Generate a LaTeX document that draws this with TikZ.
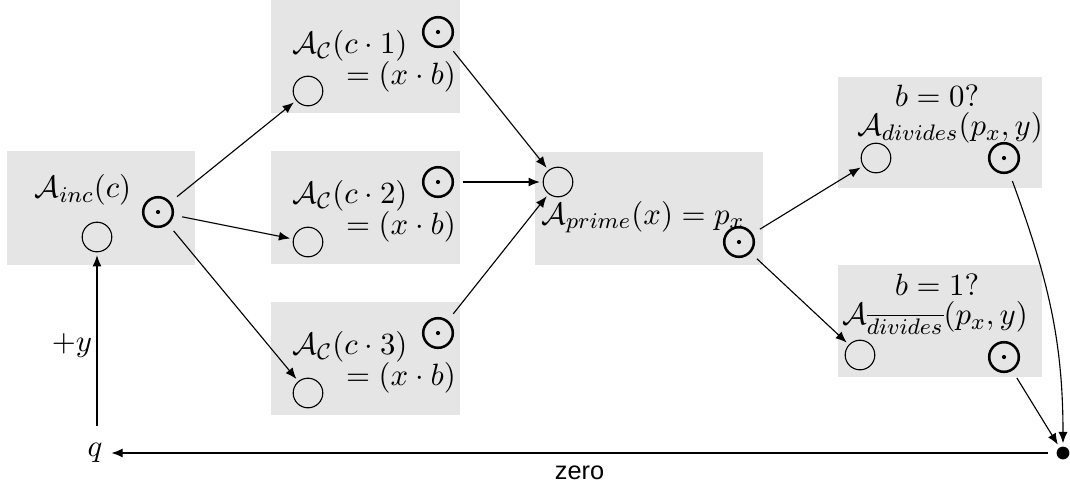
\documentclass[tikz,border=0pt]{standalone}
\usepackage{amsmath,amssymb}
\usepackage{fontspec}
\newfontfamily\zerofont{Liberation Sans}
\usetikzlibrary{arrows.meta}

\begin{document}
\begin{tikzpicture}[x=0.0125cm,y=-0.0125cm,>={Latex[length=4pt,width=3.2pt]},
    box/.style={fill=black!10,inner sep=0pt},
    lbl/.style={inner sep=0pt,font=\fontsize{11.4}{13}\selectfont},
    inport/.style={draw,circle,minimum size=0.37cm,inner sep=0pt},
    outport/.style={draw,circle,line width=0.9pt,minimum size=0.37cm,inner sep=0pt,
      path picture={\fill (path picture bounding box.center) circle (0.75pt);}},
    wire/.style={->,shorten <=3pt,shorten >=1pt}]
            \useasboundingbox (0,0) rectangle (1070,481);
            % boxes
            \node[box,minimum width=2.35cm,minimum height=1.4125cm] at (101,208) (incbox) {};
            \node[box,minimum width=2.35cm,minimum height=1.4125cm] at (365.5,56.5) (onebox) {};
            \node[box,minimum width=2.35cm,minimum height=1.4125cm] at (365.5,207.5) (twobox) {};
            \node[box,minimum width=2.35cm,minimum height=1.4125cm] at (365.5,358.5) (threebox) {};
            \node[box,minimum width=2.85cm,minimum height=1.4125cm] at (649,208.5) (primebox) {};
            \node[box,minimum width=2.55cm,minimum height=1.39cm] at (940,132.5) (divbox) {};
            \node[box,minimum width=2.55cm,minimum height=1.4cm] at (940,321) (ndivbox) {};
            % texts
            \node[lbl] at (83,190) (inc) {$\mathcal{A}_{inc}(c)$};
            \node[lbl] at (350,46) (cone) {$\mathcal{A}_{\mathcal{C}}(c\cdot 1)$};
            \node[lbl] at (401,77) (eqone) {$=(x\cdot b)$};
            \node[lbl] at (350,196) (ctwo) {$\mathcal{A}_{\mathcal{C}}(c\cdot 2)$};
            \node[lbl] at (401,227) (eqtwo) {$=(x\cdot b)$};
            \node[lbl] at (350,347) (cthree) {$\mathcal{A}_{\mathcal{C}}(c\cdot 3)$};
            \node[lbl] at (401,378) (eqthree) {$=(x\cdot b)$};
            \node[lbl] at (643,217) (prime) {$\mathcal{A}_{prime}(x) = p_x$};
            \node[lbl] at (937,96) (bzero) {$b=0?$};
            \node[lbl] at (950,128) (div) {$\mathcal{A}_{divides}(p_x,y)$};
            \node[lbl] at (937,285) (bone) {$b=1?$};
            \node[lbl] at (935,318) (ndiv) {$\mathcal{A}_{\overline{divides}}(p_x,y)$};
            % ports
            \node[inport] at (97,237) (incin) {};
            \node[outport] at (158,212) (incout) {};
            \node[inport] at (308,91) (onein) {};
            \node[outport] at (438,32) (oneout) {};
            \node[inport] at (308,242) (twoin) {};
            \node[outport] at (438,182) (twoout) {};
            \node[inport] at (308,393) (threein) {};
            \node[outport] at (438,333) (threeout) {};
            \node[inport] at (558,182) (primein) {};
            \node[outport] at (739,242) (primeout) {};
            \node[inport] at (876,158) (divin) {};
            \node[outport] at (1004,158) (divout) {};
            \node[inport] at (860,355) (ndivin) {};
            \node[outport] at (1004,357) (ndivout) {};
            \node[circle,fill=black,minimum size=0.16cm,inner sep=0pt] at (1063,453) (sink) {};
            \node[lbl] at (95,453) (q) {$q$};
            \node[lbl] at (72,345) (plusy) {$+y$};
            % wires
            \draw[wire] (incout) -- (onein);
            \draw[wire] (incout) -- (twoin);
            \draw[wire] (incout) -- (threein);
            \draw[wire] (oneout) -- (primein);
            \draw[wire] (twoout) -- (primein);
            \draw[wire] (threeout) -- (primein);
            \draw[wire] (primeout) -- (divin);
            \draw[wire] (primeout) -- (ndivin);
            \draw[wire] (divout) to[out=-70,in=90] (sink);
            \draw[wire] (ndivout) -- (sink);
            \draw[->,shorten <=3pt,shorten >=3pt] (sink) -- (q)
              node[midway,below=1pt,font=\zerofont\fontsize{9}{10}\selectfont] (zero) {zero};
            \draw[->,shorten <=6pt,shorten >=1pt] (incin |- q.north) -- (incin);
          \end{tikzpicture}
\end{document}
